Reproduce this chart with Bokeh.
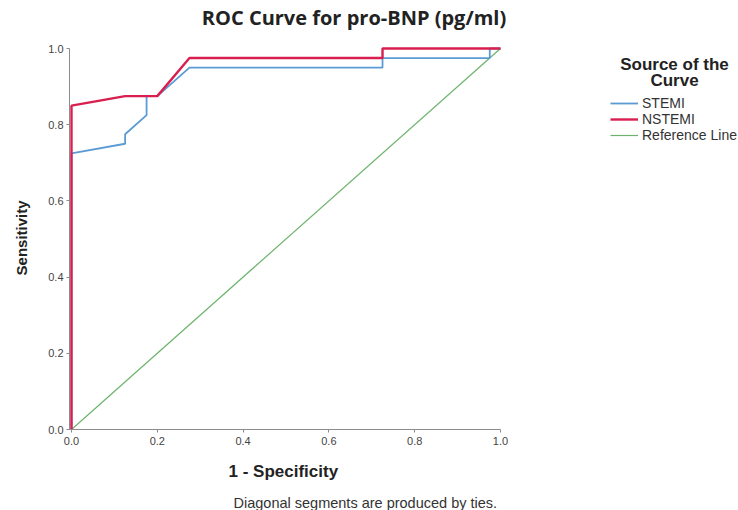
from bokeh.plotting import figure
from bokeh.models import Range1d, Legend, LegendItem, FixedTicker, PrintfTickFormatter, Title, Label
from bokeh.embed import file_html
from bokeh.resources import INLINE

# ---- data ----
stemi_x = [0.0, 0.0, 0.125, 0.125, 0.175, 0.175, 0.2, 0.275, 0.725, 0.725, 0.975, 0.975, 1.0]
stemi_y = [0.0, 0.725, 0.75, 0.775, 0.825, 0.875, 0.875, 0.95, 0.95, 0.975, 0.975, 1.0, 1.0]
nstemi_x = [0.0, 0.0, 0.125, 0.2, 0.275, 0.725, 0.725, 1.0]
nstemi_y = [0.0, 0.85, 0.875, 0.875, 0.975, 0.975, 1.0, 1.0]
ref_x = [0.0, 1.0]
ref_y = [0.0, 1.0]
ticks = [0.0, 0.2, 0.4, 0.6, 0.8, 1.0]
series_names = ["STEMI", "NSTEMI", "Reference Line"]

X0 = -0.00466
p = figure(width=738, height=510, output_backend="svg", toolbar_location=None,
           x_range=Range1d(X0, 1.5548), y_range=Range1d(0, 1.126),
           min_border_left=69, min_border_right=0, min_border_top=0, min_border_bottom=81)
p.outline_line_color = None
p.grid.grid_line_color = None

r_ref = p.line(ref_x, ref_y, line_color="#6db36d", line_width=1.2)
r_stemi = p.line(stemi_x, stemi_y, line_color="#5b9bd5", line_width=1.8)
r_nstemi = p.line(nstemi_x, nstemi_y, line_color="#d81f4f", line_width=2.4)

for ax in (p.xaxis[0], p.yaxis[0]):
    ax.ticker = FixedTicker(ticks=ticks)
    ax.formatter = PrintfTickFormatter(format="%.1f")
    ax.axis_line_color = "#8c8c8c"
    ax.major_tick_line_color = "#8c8c8c"
    ax.major_tick_out = 3
    ax.major_tick_in = 0
    ax.minor_tick_line_color = None
    ax.major_label_text_font = "Liberation Sans"
    ax.major_label_text_font_size = "11px"
    ax.major_label_text_color = "#444444"
    ax.axis_label_text_font = "Liberation Sans"
    ax.axis_label_text_font_style = "bold"
    ax.axis_label_text_color = "#222222"

p.xaxis.bounds = (X0, 1.0)
p.yaxis.bounds = (0.0, 1.0)
p.xaxis.major_label_standoff = 4
p.yaxis.major_label_standoff = 3
# axis label is centred on the full frame; trailing no-break spaces move the visible word down
p.yaxis.axis_label = "Sensitivity" + "\u00a0" * 11
p.yaxis.axis_label_text_font_size = "15px"
p.yaxis.axis_label_standoff = 15

xlab = Title(text="1 - Specificity", align="left", offset=159,
             text_font="Liberation Sans", text_font_style="bold", text_font_size="17px",
             text_color="#222222", standoff=24)
p.add_layout(xlab, "below")
foot = Title(text="Diagonal segments are produced by ties.", align="left", offset=164,
             text_font="Liberation Sans", text_font_style="normal", text_font_size="14.5px",
             text_color="#333333", standoff=0)
p.add_layout(foot, "below")

legend = Legend(items=[
    LegendItem(label=series_names[0], renderers=[r_stemi]),
    LegendItem(label=series_names[1], renderers=[r_nstemi]),
    LegendItem(label=series_names[2], renderers=[r_ref]),
], location=(541, 286))
legend.background_fill_alpha = 0
legend.border_line_color = None
legend.padding = 0
legend.margin = 0
legend.spacing = 0
legend.glyph_width = 28
legend.glyph_height = 16
legend.label_height = 16
legend.label_standoff = 4
legend.label_text_font = "Liberation Sans"
legend.label_text_font_size = "14px"
legend.label_text_color = "#333333"
p.add_layout(legend, "center")

p.add_layout(Label(x=284.5, y=412, x_units="screen", y_units="screen",
                   text="ROC Curve for pro-BNP (pg/ml)", text_font="Open Sans",
                   text_font_style="bold", text_font_size="20px",
                   text_align="center", text_baseline="middle", text_color="#222222"))
for txt, y in (("Source of the", 365), ("Curve", 349)):
    p.add_layout(Label(x=605, y=y, x_units="screen", y_units="screen", text=txt,
                       text_font="Liberation Sans", text_font_style="bold", text_font_size="17px",
                       text_align="center", text_baseline="middle", text_color="#222222"))

open("out.html", "w").write(file_html(p, INLINE))
